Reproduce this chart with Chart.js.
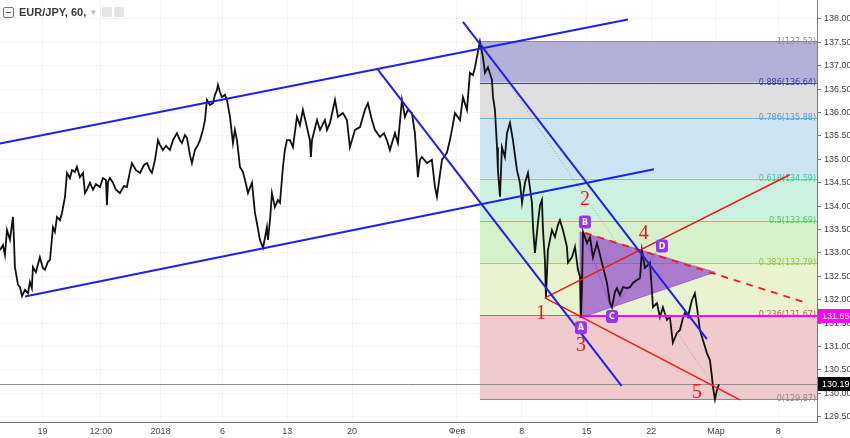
<!DOCTYPE html>
<html><head><meta charset="utf-8">
<script src="https://cdn.jsdelivr.net/npm/chart.js@4.4.1/dist/chart.umd.min.js"></script>
<style>
html,body{margin:0;padding:0;background:#fff;overflow:hidden}
#wrap{position:relative;width:850px;height:438px}
#title{position:absolute;left:3px;top:5px;height:14px;display:flex;align-items:center;font:bold 11px "Liberation Sans",Arial,sans-serif;color:#3a3a3a;white-space:nowrap}
#title .box{display:inline-block;width:9px;height:9px;border:1px solid #777;border-radius:2px;position:relative;margin-right:5px}
#title .box:after{content:"";position:absolute;left:2px;right:2px;top:4px;height:1px;background:#555}
#title .caret{color:#bbb;font-weight:normal;font-size:9px;margin:0 6px 0 5px}
#title .ic{display:inline-block;width:10px;height:10px;background:#e4e4e4;border-radius:2px;margin-right:2px}
</style></head><body>
<div id="wrap"><canvas id="c" width="850" height="438"></canvas>
<div id="title"><span class="box"></span><span>EUR/JPY, 60,</span><span class="caret">▾</span><span class="ic"></span><span class="ic"></span></div></div>
<script>
// x unit: trading days from 1 Jan 2018
const xTickPos = [-9, -4.5, 0.1, 4.9, 9.9, 14.9, 23, 28, 33, 38, 43, 47.8];
const xTickLabels = ['19','12:00','2018','6','13','20','Фев','8','15','22','Мар','8'];
const yTicks = [129.5,130,130.5,131,131.5,132,132.5,133,133.5,134,134.5,135,135.5,136,136.5,137,137.5,138];

const times = [
-12.29,-12.06,-11.91,-11.75,-11.52,-11.29,-11.21,-11.14,-10.90,-10.75,
-10.59,-10.36,-10.13,-9.98,-9.83,-9.75,-9.52,-9.21,-8.98,-8.82,
-8.59,-8.43,-8.20,-8.05,-7.89,-7.66,-7.51,-7.27,-7.12,-6.89,
-6.73,-6.50,-6.35,-6.12,-5.88,-5.73,-5.58,-5.34,-5.11,-4.88,
-4.57,-4.34,-4.11,-4.03,-3.95,-3.80,-3.57,-3.34,-3.03,-2.72,
-2.49,-2.26,-2.10,-1.79,-1.48,-1.17,-0.94,-0.71,-0.56,-0.32,
-0.09,0.06,0.29,0.53,0.83,1.07,1.37,1.61,1.76,1.99,
2.15,2.38,2.53,2.76,3.00,3.15,3.38,3.54,3.69,3.92,
4.15,4.31,4.46,4.54,4.69,4.85,5.08,5.24,5.47,5.70,
5.85,6.01,6.24,6.47,6.63,6.86,7.01,7.17,7.40,7.55,
7.78,8.02,8.17,8.32,8.40,8.56,8.71,8.94,9.17,9.33,
9.56,9.71,9.87,10.10,10.33,10.64,10.87,11.10,11.41,11.64,
11.72,11.80,12.19,12.42,12.80,12.96,13.19,13.58,13.81,14.19,
14.50,14.73,15.12,15.51,15.89,16.12,16.43,16.66,17.05,17.36,
17.59,17.82,18.21,18.44,18.75,18.98,19.21,19.52,19.75,19.91,
19.98,20.14,20.29,20.68,21.06,21.30,21.45,21.68,21.84,22.22,
22.45,22.61,22.84,23.23,23.46,23.77,24.00,24.23,24.39,24.54,
24.77,25.00,25.16,25.39,25.70,25.78,25.93,26.09,26.16,26.32,
26.47,26.70,26.86,27.09,27.32,27.63,27.86,28.02,28.25,28.48,
28.79,28.87,29.02,29.25,29.41,29.56,29.64,29.79,29.87,30.02,
30.33,30.56,30.80,30.95,31.18,31.49,31.57,31.88,32.11,32.34,
32.50,32.57,32.65,32.73,33.04,33.27,33.50,33.81,34.04,34.27,
34.58,34.81,34.97,35.20,35.35,35.58,35.82,36.12,36.36,36.59,
36.90,37.13,37.28,37.51,37.74,37.90,38.05,38.13,38.44,38.67,
38.90,39.21,39.44,39.67,39.98,40.21,40.45,40.60,40.83,41.14,
41.37,41.53,41.76,41.99,42.30,42.53,42.69,42.76,42.92,43.07,
43.23];
const prices = [
133.06,133.17,132.96,133.49,133.28,133.77,133.28,132.70,132.32,132.27,
132.08,132.21,132.14,132.38,132.25,132.70,132.59,132.91,132.68,132.64,
132.81,132.85,133.55,133.45,133.77,133.70,133.85,134.20,134.71,134.60,
134.77,134.73,134.84,134.62,134.71,134.28,134.35,134.50,134.35,134.47,
134.41,134.60,134.56,134.02,134.52,134.60,134.50,134.35,134.28,134.43,
134.41,134.73,134.92,134.77,134.71,134.88,134.92,134.77,134.71,134.99,
135.41,135.31,135.20,135.29,135.20,135.41,135.56,135.41,135.35,135.52,
135.46,135.09,134.92,135.20,135.31,135.41,135.63,135.84,136.27,136.16,
136.20,136.38,136.48,136.59,136.44,136.33,136.38,136.27,135.91,135.35,
135.63,135.41,134.84,134.73,134.56,134.28,134.39,134.50,133.85,133.64,
133.28,133.11,133.32,133.55,133.28,133.70,134.28,133.98,134.13,134.07,
134.84,135.20,135.41,135.41,135.26,135.91,135.73,136.06,135.69,135.41,
135.05,135.41,135.84,135.63,135.84,135.63,135.78,136.27,135.91,135.99,
135.84,135.26,135.63,135.69,136.06,136.20,135.84,135.63,135.48,135.56,
135.41,135.20,135.56,135.35,136.27,135.91,136.06,135.99,135.56,134.92,
134.62,134.99,135.05,134.92,134.99,134.41,134.20,134.67,134.99,135.14,
135.41,135.63,135.99,135.84,136.33,136.06,136.85,136.80,136.97,137.19,
137.52,137.19,136.85,136.97,136.70,136.33,136.06,135.26,134.77,134.20,
135.26,135.05,135.56,135.78,135.41,134.77,134.50,134.07,134.50,134.71,
134.07,133.55,133.00,133.64,134.02,134.13,133.49,132.85,132.04,133.06,
133.49,133.34,133.60,133.70,133.49,133.13,132.79,132.91,133.13,132.64,
132.49,131.61,132.21,133.45,133.21,133.34,132.91,133.21,132.96,132.70,
132.36,131.93,131.84,132.17,132.25,132.10,132.27,132.25,132.27,132.36,
132.42,132.46,133.06,132.68,132.74,132.79,132.21,131.84,131.93,131.63,
131.84,131.57,131.63,131.08,131.29,131.35,131.61,131.72,131.63,131.99,
132.14,131.84,131.35,131.14,130.86,130.71,130.35,130.14,129.87,130.07,
130.19];

// Fibonacci retracement
const fibStart = 24.77;
const fibRatios = ['1','0.886','0.786','0.618','0.5','0.382','0.236','0'];
const fibPrices = [137.52,136.64,135.88,134.59,133.69,132.79,131.67,129.87];
const fibFill = ['rgb(178,177,216)','rgb(223,223,223)','rgb(205,228,242)','rgb(203,242,224)','rgb(214,240,204)','rgb(233,243,207)','rgb(240,202,204)'];
const fibLine = ['#8a8a8a','#3b3bc4','#6fb2e0','#5fd6a8','#6fd36f','#a9d05a','#e05555','#8a8a8a'];
const fibText = ['#8a8a8a','#3636c8','#4d9fd6','#36cc8c','#59c659','#98c43e','#e04848','#8a8a8a'];

// drawings (data space: [x1, price1, x2, price2])
const blueLines = [[-12.29,135.34,36.20,137.99],[-10.36,132.07,38.21,134.79],[16.89,136.92,35.71,130.16],[23.46,137.94,42.30,131.16]];
const redLines = [[29.79,132.04,48.70,134.67],[29.79,132.04,44.85,129.86]];
const redDashed = [32.88,133.43,50.03,131.93];
const dottedLine = [24.77,137.52,43.31,129.96];
const triangle = [[32.50,133.45],[42.92,132.59],[32.50,131.61]];
const abcdPath = [[32.57,131.61],[32.73,133.45],[34.97,131.78],[38.40,133.02]];
const waveLabels = ['1','2','3','4','5'];
const waveX = [29.48,32.88,32.57,37.43,41.53];
const waveY = [131.70,134.13,131.01,133.40,130.01];
const abcdLabels = ['A','B','C','D'];
const abcdX = [32.57,32.88,34.97,38.83];
const abcdY = [131.40,133.66,131.64,133.15];
const magentaLevel = 131.65, magentaStart = 32.65;
const lastPrice = 130.19;

const X_MIN = -12.29, X_MAX = 50.80, Y_MIN = 129.387, Y_MAX = 138.406;

function seg(ctx, x, y, l){
  ctx.beginPath();
  ctx.moveTo(x.getPixelForValue(l[0]), y.getPixelForValue(l[1]));
  ctx.lineTo(x.getPixelForValue(l[2]), y.getPixelForValue(l[3]));
  ctx.stroke();
}

const annot = {
  id:'annot',
  beforeDatasetsDraw(chart){
    const {ctx, chartArea:a, scales:{x,y}} = chart;
    ctx.save();
    ctx.beginPath(); ctx.rect(a.left,a.top,a.width,a.height); ctx.clip();
    const x0 = x.getPixelForValue(fibStart);
    for (let i=0;i<fibPrices.length-1;i++){
      const y1 = y.getPixelForValue(fibPrices[i]), y2 = y.getPixelForValue(fibPrices[i+1]);
      ctx.fillStyle = fibFill[i];
      ctx.fillRect(x0, y1, a.right-x0, y2-y1);
    }
    fibPrices.forEach((p,i)=>{
      const yy = Math.round(y.getPixelForValue(p))+0.5;
      ctx.strokeStyle = fibLine[i]; ctx.lineWidth = 1;
      ctx.beginPath(); ctx.moveTo(x0,yy); ctx.lineTo(a.right,yy); ctx.stroke();
    });
    // triangle
    ctx.fillStyle = 'rgba(132,44,204,0.6)';
    ctx.beginPath();
    triangle.forEach((p,i)=>{ const px=x.getPixelForValue(p[0]), py=y.getPixelForValue(p[1]); i?ctx.lineTo(px,py):ctx.moveTo(px,py); });
    ctx.closePath(); ctx.fill();
    ctx.strokeStyle = 'rgba(150,70,220,0.7)'; ctx.lineWidth = 1; ctx.stroke();
    // abcd path
    ctx.strokeStyle = 'rgba(140,60,210,0.55)';
    ctx.beginPath();
    abcdPath.forEach((p,i)=>{ const px=x.getPixelForValue(p[0]), py=y.getPixelForValue(p[1]); i?ctx.lineTo(px,py):ctx.moveTo(px,py); });
    ctx.stroke();
    // last price line
    const yl = Math.round(y.getPixelForValue(lastPrice))+0.5;
    ctx.strokeStyle = '#8c8c8c'; ctx.lineWidth = 1;
    ctx.beginPath(); ctx.moveTo(a.left,yl); ctx.lineTo(a.right,yl); ctx.stroke();
    ctx.restore();
  },
  afterDatasetsDraw(chart){
    const {ctx, chartArea:a, scales:{x,y}} = chart;
    ctx.save();
    ctx.beginPath(); ctx.rect(a.left,a.top,a.width,a.height); ctx.clip();
    // fib labels
    ctx.font = '8px "DejaVu Sans", Verdana, sans-serif';
    ctx.textAlign = 'right'; ctx.textBaseline = 'middle';
    fibPrices.forEach((p,i)=>{
      ctx.fillStyle = fibText[i];
      ctx.fillText(fibRatios[i]+'('+p.toFixed(2)+')', a.right-1, y.getPixelForValue(p));
    });
    // dotted trend
    ctx.strokeStyle = 'rgba(140,140,140,0.8)'; ctx.lineWidth = 1; ctx.setLineDash([1,2]);
    seg(ctx,x,y,dottedLine);
    ctx.setLineDash([]);
    // magenta level
    const ym = y.getPixelForValue(magentaLevel);
    ctx.strokeStyle = '#ff00ff'; ctx.lineWidth = 2;
    ctx.beginPath(); ctx.moveTo(x.getPixelForValue(magentaStart), ym); ctx.lineTo(a.right, ym); ctx.stroke();
    // red dashed
    ctx.strokeStyle = '#ee1c1c'; ctx.lineWidth = 1.8; ctx.setLineDash([7,6]);
    seg(ctx,x,y,redDashed);
    ctx.setLineDash([]);
    // red solid
    ctx.lineWidth = 1.6;
    redLines.forEach(l=>seg(ctx,x,y,l));
    // blue lines
    ctx.strokeStyle = '#1f1ff0'; ctx.lineWidth = 2;
    blueLines.forEach(l=>seg(ctx,x,y,l));
    // wave numbers
    ctx.font = '20px "Liberation Serif", "DejaVu Serif", serif';
    ctx.textAlign = 'center'; ctx.textBaseline = 'middle'; ctx.fillStyle = '#e8161c';
    waveLabels.forEach((t,i)=>ctx.fillText(t, x.getPixelForValue(waveX[i]), y.getPixelForValue(waveY[i])));
    // abcd labels
    ctx.font = 'bold 8px "DejaVu Sans", sans-serif';
    abcdLabels.forEach((t,i)=>{
      const px = x.getPixelForValue(abcdX[i]), py = y.getPixelForValue(abcdY[i]);
      ctx.fillStyle = '#9a33f0';
      ctx.beginPath(); ctx.roundRect(px-6, py-6.5, 12, 13, 3); ctx.fill();
      ctx.fillStyle = '#fff'; ctx.fillText(t, px, py+0.5);
    });
    ctx.restore();
  },
  afterDraw(chart){
    const {ctx, chartArea:a, scales:{y}} = chart;
    ctx.save();
    ctx.font = '9px "Liberation Sans", Arial, sans-serif';
    ctx.textAlign = 'left'; ctx.textBaseline = 'middle';
    [[magentaLevel,'#ff00ff'],[lastPrice,'#000000']].forEach(([v,c])=>{
      const yy = y.getPixelForValue(v);
      ctx.fillStyle = c; ctx.fillRect(a.right+1, Math.round(yy)-7, 33, 14);
      ctx.fillStyle = '#fff'; ctx.fillText(v.toFixed(2), a.right+5, yy);
    });
    ctx.restore();
  }
};

new Chart(document.getElementById('c').getContext('2d'), {
  type:'line',
  data:{datasets:[{data: times.map((t,i)=>({x:t,y:prices[i]})), borderColor:'#111', borderWidth:1.8, pointRadius:0, tension:0, fill:false, borderJoinStyle:'miter'}]},
  options:{
    responsive:false, animation:false, devicePixelRatio:1,
    layout:{padding:0},
    plugins:{legend:{display:false}, tooltip:{enabled:false}},
    scales:{
      x:{type:'linear', min:X_MIN, max:X_MAX,
        afterBuildTicks:(ax)=>{ ax.ticks = xTickPos.map(v=>({value:v})); },
        afterFit:(ax)=>{ ax.height = 16; ax.paddingLeft = 0; ax.paddingRight = 0; },
        ticks:{autoSkip:false, maxRotation:0, minRotation:0, padding:1, color:'#444',
          font:{family:'"Liberation Sans", Arial, sans-serif', size:9},
          callback:(v,i)=>xTickLabels[i]},
        grid:{color:'rgba(0,0,0,0.045)', tickLength:3, tickColor:'rgba(0,0,0,0)'},
        border:{display:true, color:'#7a7a7a', width:1}},
      y:{position:'right', min:Y_MIN, max:Y_MAX,
        afterBuildTicks:(ax)=>{ ax.ticks = yTicks.map(v=>({value:v})); },
        afterFit:(ax)=>{ ax.width = 33; ax.paddingTop = 0; ax.paddingBottom = 0; },
        ticks:{padding:3, color:'#444', font:{family:'"Liberation Sans", Arial, sans-serif', size:9},
          callback:(v)=>Number(v).toFixed(2)},
        grid:{color:'rgba(0,0,0,0.045)', tickLength:4, tickColor:'#777'},
        border:{display:true, color:'#7a7a7a', width:1}}
    }
  },
  plugins:[annot]
});
</script>
</body></html>
